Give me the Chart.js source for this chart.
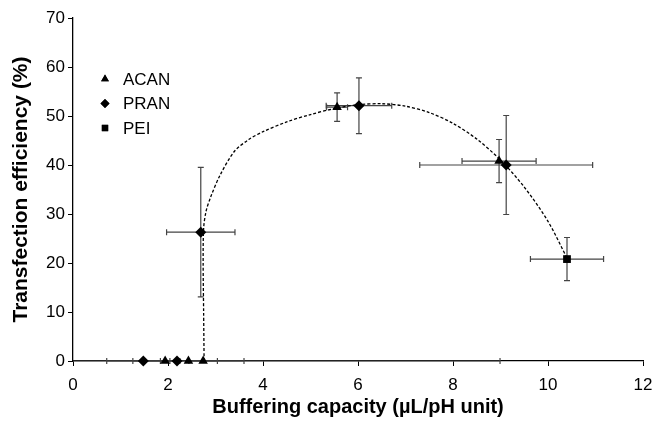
<!DOCTYPE html>
<html lang="en">
<head>
<meta charset="utf-8" />
<title>Buffering capacity vs transfection</title>
<script src="https://cdn.jsdelivr.net/npm/chart.js"></script>
<style>
  body { margin: 0; background: #fff; }
</style>
</head>
<body>
<canvas id="bufChart" width="657" height="423"></canvas>
<script>
// ACAN (triangles)
const acanX = [1.94, 2.43, 2.74, 5.56, 8.97];
const acanY = [0, 0, 0, 51.8, 40.8];
const acanXErr = [0.1, 1.17, 0.3, 0.22, 0.78];
const acanYErr = [0, 0, 0, 2.9, 4.4];

// PRAN (diamonds)
const pranX = [1.48, 2.19, 2.69, 6.02, 9.12];
const pranY = [0, 0, 26.3, 52.1, 40.0];
const pranXErr = [0.77, 6.8, 0.72, 0.69, 1.82];
const pranYErr = [0, 0, 13.2, 5.7, 10.1];

// PEI (square)
const peiX = [10.4];
const peiY = [20.8];
const peiXErr = [0.77];
const peiYErr = [4.4];

// dashed fitted curve
const fitX = [2.76, 2.75, 2.74, 2.75, 2.8, 2.9, 3.1, 3.4, 3.7, 4.0, 4.5, 5.0, 5.5, 6.0, 6.5, 7.0, 7.5, 8.0, 8.5, 9.0, 9.5, 10.0, 10.4];
const fitY = [0, 10, 20, 27, 30.5, 33.5, 38, 42.8, 45.2, 46.8, 48.8, 50.3, 51.5, 52.3, 52.5, 52, 50.7, 48.5, 45.3, 41, 35.5, 28.5, 21];

const xTicks = [0, 2, 4, 6, 8, 10, 12];
const yTicks = [0, 10, 20, 30, 40, 50, 60, 70];

const seriesNames = ['ACAN', 'PRAN', 'PEI'];
const seriesShapes = ['triangle', 'rectRot', 'rect'];

const FONT = '"Liberation Sans", Arial, sans-serif';

function pts(xs, ys) {
  return xs.map((x, i) => ({ x: x, y: ys[i] }));
}

const errSets = [
  { x: acanX, y: acanY, xe: acanXErr, ye: acanYErr },
  { x: pranX, y: pranY, xe: pranXErr, ye: pranYErr },
  { x: peiX, y: peiY, xe: peiXErr, ye: peiYErr }
];

// error bars drawn under the markers
const errorBars = {
  id: 'errorBars',
  beforeDatasetsDraw(chart) {
    const ctx = chart.ctx, xs = chart.scales.x, ys = chart.scales.y, a = chart.chartArea;
    ctx.save();
    ctx.beginPath();
    ctx.rect(a.left, a.top - 2, a.right - a.left, a.bottom - a.top + 6);
    ctx.clip();
    ctx.strokeStyle = '#444';
    ctx.lineWidth = 1.2;
    errSets.forEach(s => {
      s.x.forEach((x, i) => {
        const px = xs.getPixelForValue(x), py = ys.getPixelForValue(s.y[i]);
        if (s.xe[i] > 0) {
          const l = xs.getPixelForValue(x - s.xe[i]), r = xs.getPixelForValue(x + s.xe[i]);
          ctx.beginPath();
          ctx.moveTo(l, py); ctx.lineTo(r, py);
          ctx.moveTo(l, py - 3); ctx.lineTo(l, py + 3);
          ctx.moveTo(r, py - 3); ctx.lineTo(r, py + 3);
          ctx.stroke();
        }
        if (s.ye[i] > 0) {
          const t = ys.getPixelForValue(s.y[i] + s.ye[i]), b = ys.getPixelForValue(s.y[i] - s.ye[i]);
          ctx.beginPath();
          ctx.moveTo(px, t); ctx.lineTo(px, b);
          ctx.moveTo(px - 3, t); ctx.lineTo(px + 3, t);
          ctx.moveTo(px - 3, b); ctx.lineTo(px + 3, b);
          ctx.stroke();
        }
      });
    });
    ctx.restore();
  }
};

// legend inside the plot, upper left
const innerLegend = {
  id: 'innerLegend',
  afterDraw(chart) {
    const ctx = chart.ctx;
    ctx.save();
    ctx.fillStyle = '#000';
    ctx.font = '17px ' + FONT;
    ctx.textBaseline = 'middle';
    seriesNames.forEach((name, i) => {
      const y = 79 + i * 24.5;
      Chart.helpers.drawPoint(ctx, { pointStyle: seriesShapes[i], radius: 4.5, borderWidth: 0 }, 105, y);
      ctx.fill();
      ctx.fillText(name, 123, y + 1);
    });
    ctx.restore();
  }
};

const markerStyle = {
  backgroundColor: '#000',
  borderColor: '#000',
  borderWidth: 0,
  showLine: false,
  clip: false
};

new Chart(document.getElementById('bufChart').getContext('2d'), {
  type: 'scatter',
  data: {
    datasets: [
      Object.assign({ label: 'ACAN', data: pts(acanX, acanY), pointStyle: 'triangle', pointRadius: 5.5 }, markerStyle),
      Object.assign({ label: 'PRAN', data: pts(pranX, pranY), pointStyle: 'rectRot', pointRadius: 5.5 }, markerStyle),
      Object.assign({ label: 'PEI', data: pts(peiX, peiY), pointStyle: 'rect', pointRadius: 5.5 }, markerStyle),
      {
        label: 'fit',
        data: pts(fitX, fitY),
        showLine: true,
        borderColor: '#000',
        borderWidth: 1.3,
        borderDash: [3, 2],
        pointRadius: 0,
        tension: 0.3,
        order: 5
      }
    ]
  },
  options: {
    responsive: false,
    animation: false,
    layout: { padding: { left: 0, right: 14, top: 18, bottom: 0 } },
    plugins: { legend: { display: false }, tooltip: { enabled: false } },
    scales: {
      x: {
        type: 'linear', min: 0, max: 12,
        afterBuildTicks: s => { s.ticks = xTicks.map(v => ({ value: v })); },
        afterFit: s => { s.height = 62; s.paddingRight = 0; s.paddingLeft = 0; },
        grid: { display: true, drawOnChartArea: false, color: '#000', tickLength: 5 },
        border: { color: '#000', width: 1.3 },
        ticks: { color: '#000', padding: 9, font: { size: 17, family: FONT } },
        title: {
          display: true, text: 'Buffering capacity (\u00b5L/pH unit)', color: '#000', padding: { top: 2 },
          font: { size: 20, weight: 'bold', family: FONT }
        }
      },
      y: {
        type: 'linear', min: 0, max: 70,
        afterBuildTicks: s => { s.ticks = yTicks.map(v => ({ value: v })); },
        afterFit: s => { s.width = 73; },
        grid: { display: true, drawOnChartArea: false, color: '#000', tickLength: 5 },
        border: { color: '#000', width: 1.3 },
        ticks: { color: '#000', padding: 3, font: { size: 17, family: FONT } },
        title: {
          display: true, text: 'Transfection efficiency (%)', color: '#000', padding: { top: 9, bottom: 0 },
          font: { size: 21, weight: 'bold', family: FONT }
        }
      }
    }
  },
  plugins: [errorBars, innerLegend]
});
</script>
</body>
</html>
